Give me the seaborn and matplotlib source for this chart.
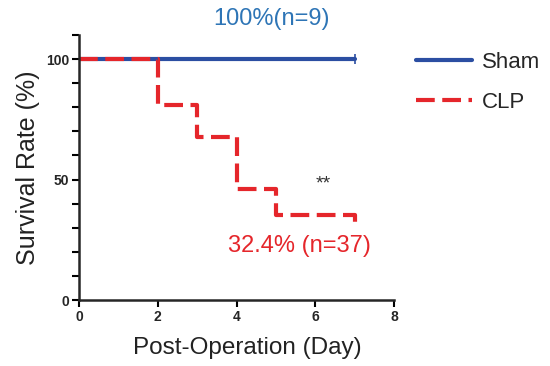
import pandas as pd
import matplotlib.pyplot as plt
import seaborn as sns
from matplotlib.lines import Line2D

groups = ["Sham", "CLP"]
sham_days = [0, 7]
sham_surv = [100, 100]
clp_days = [0, 2, 3, 4, 5, 7]
clp_surv = [100, 81.1, 67.6, 45.9, 35.1, 32.4]
sham_note = "100%(n=9)"
clp_note = "32.4% (n=37)"
sig_note = "**"

df = pd.concat([
    pd.DataFrame({"Day": sham_days, "Survival": sham_surv, "Group": "Sham"}),
    pd.DataFrame({"Day": clp_days, "Survival": clp_surv, "Group": "CLP"}),
])

sns.set_style("ticks")
plt.rcParams["font.family"] = ["Liberation Sans", "DejaVu Sans"]

colors = {"Sham": "#2b4ea2", "CLP": "#e5262b"}
dashes = {"Sham": "", "CLP": (4.5, 1.8)}

fig = plt.figure(figsize=(5.5, 3.66), dpi=100)
ax = fig.add_axes([0.1436, 0.1803, 0.5728, 0.7241])

sns.lineplot(data=df, x="Day", y="Survival", hue="Group", style="Group",
             hue_order=groups, style_order=groups, palette=colors, dashes=dashes,
             drawstyle="steps-post", linewidth=3, legend=False, ax=ax)
# censor tick for Sham at day 7
ax.plot([sham_days[-1]], [sham_surv[-1]], marker="|", markersize=7,
        markeredgewidth=1.2, color=colors["Sham"])

ax.set_xlim(0, 8)
ax.set_ylim(0, 110)
ax.set_xticks([0, 2, 4, 6, 8])
ax.set_yticks(range(0, 111, 10))
ax.set_yticklabels(["0" if v == 0 else "50" if v == 50 else "100" if v == 100 else "" for v in range(0, 111, 10)])
ax.tick_params(axis="both", labelsize=10, width=1.5, length=5, color="black", pad=2)
for lab in ax.get_xticklabels() + ax.get_yticklabels():
    lab.set_fontweight("bold")
for s in ["left", "bottom"]:
    ax.spines[s].set_linewidth(1.8)
sns.despine(ax=ax)

ax.set_xlabel("Post-Operation (Day)", fontsize=17.5, color="#222222")
ax.xaxis.set_label_coords(0.535, -0.14)
ax.set_ylabel("Survival Rate (%)", fontsize=18, color="#222222", labelpad=4)

ax.text(4.9, 116.5, sham_note, color="#2e75b6", fontsize=17, ha="center", va="center", clip_on=False)
ax.text(5.6, 22.5, clp_note, color="#e5262b", fontsize=17, ha="center", va="center")
ax.text(6.2, 48, sig_note, color="#333333", fontsize=14, ha="center", va="center")

handles = [Line2D([], [], color=colors[g], linewidth=3,
                  linestyle="-" if g == "Sham" else (0, (4.5, 1.8))) for g in groups]
fig.legend(handles, groups, loc="upper left", bbox_to_anchor=(0.72, 0.913),
           frameon=False, fontsize=16, handlelength=2.5, labelspacing=0.85,
           handletextpad=0.45)

plt.savefig("out.png", dpi=100)
